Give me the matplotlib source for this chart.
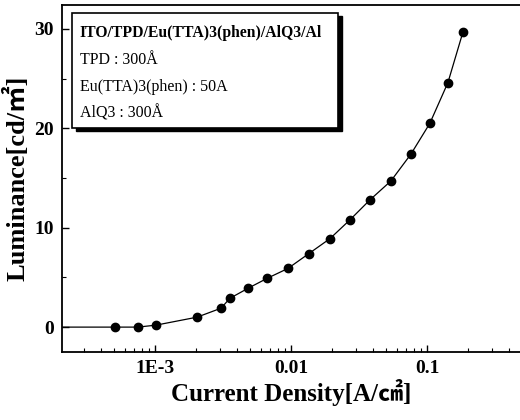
import matplotlib
matplotlib.use('Agg')
import matplotlib.pyplot as plt
from matplotlib.patches import Rectangle
from matplotlib.ticker import FixedLocator, LogLocator, NullFormatter
import numpy as np

# Current density [A/cm2] and luminance [cd/m2]
current_density = [5.1e-4, 7.5e-4, 1.02e-3, 2.04e-3, 3.06e-3, 3.56e-3, 4.83e-3, 6.67e-3,
                   9.5e-3, 0.01356, 0.01936, 0.0272, 0.0381, 0.0543, 0.0762, 0.105,
                   0.1426, 0.184]
luminance = [0.0, 0.0, 0.2, 1.0, 1.9, 2.9, 3.9, 4.9, 5.9, 7.4, 8.9, 10.8, 12.8,
             14.7, 17.4, 20.5, 24.6, 29.7]
# the guide line runs in from the left edge at zero luminance
line_start = (2.07e-4, 0.0)

x_ticks = [1e-3, 1e-2, 1e-1]
x_ticklabels = ['1E-3', '0.01', '0.1']
y_ticks = [0, 10, 20, 30]

legend_title = 'ITO/TPD/Eu(TTA)3(phen)/AlQ3/Al'
legend_lines = ['TPD : 300Å', 'Eu(TTA)3(phen) : 50A', 'AlQ3 : 300Å']

serif = ['Liberation Serif', 'Noto Sans CJK KR', 'DejaVu Sans']
plt.rcParams['font.family'] = serif

fig = plt.figure(figsize=(5.2, 4.2), dpi=100)
ax = fig.add_axes([0.119, 0.162, 0.881, 0.826])

ax.plot([line_start[0]] + current_density, [line_start[1]] + luminance,
        c='black', lw=0.9)
ax.plot(current_density, luminance, 'o', c='black', ms=6)

ax.set_xscale('log')
ax.set_xlim(2.07e-4, 0.483)
ax.set_ylim(-2.5, 32.4)

ax.xaxis.set_major_locator(FixedLocator(x_ticks))
ax.set_xticklabels(x_ticklabels)
ax.xaxis.set_minor_locator(LogLocator(base=10, subs=np.arange(2, 10)))
ax.xaxis.set_minor_formatter(NullFormatter())
ax.set_yticks(y_ticks)
ax.yaxis.set_minor_locator(FixedLocator([5, 15, 25]))

ax.tick_params(which='both', direction='in', top=False, right=False)
ax.tick_params(which='major', length=5, width=1, labelsize=14, pad=6)
ax.tick_params(which='minor', length=3, width=0.8)
for lab in ax.get_xticklabels() + ax.get_yticklabels():
    lab.set_fontweight('bold')

for side in ['left', 'bottom', 'top']:
    ax.spines[side].set_linewidth(1.3)
ax.spines['right'].set_visible(False)

ax.set_xlabel('Current Density[A/㎠]', fontsize=18, fontweight='bold', labelpad=1)
ax.set_ylabel('Luminance[cd/㎡]', fontsize=19, fontweight='bold', labelpad=3)

# info box with a dark drop shadow
bx, by, bw, bh = 0.022, 0.646, 0.581, 0.331
ax.add_patch(Rectangle((bx + 0.008, by - 0.010), bw, bh, transform=ax.transAxes,
                       facecolor='black', edgecolor='black', zorder=4))
ax.add_patch(Rectangle((bx, by), bw, bh, transform=ax.transAxes,
                       facecolor='white', edgecolor='black', lw=1.2, zorder=5))
ax.text(0.039, 0.919, legend_title, transform=ax.transAxes, fontsize=11.3,
        fontweight='bold', va='center', zorder=6)
for i, s in enumerate(legend_lines):
    ax.text(0.039, 0.841 - i * 0.076, s, transform=ax.transAxes, fontsize=11.5,
            va='center', zorder=6)

fig.savefig('out.png', dpi=100)
